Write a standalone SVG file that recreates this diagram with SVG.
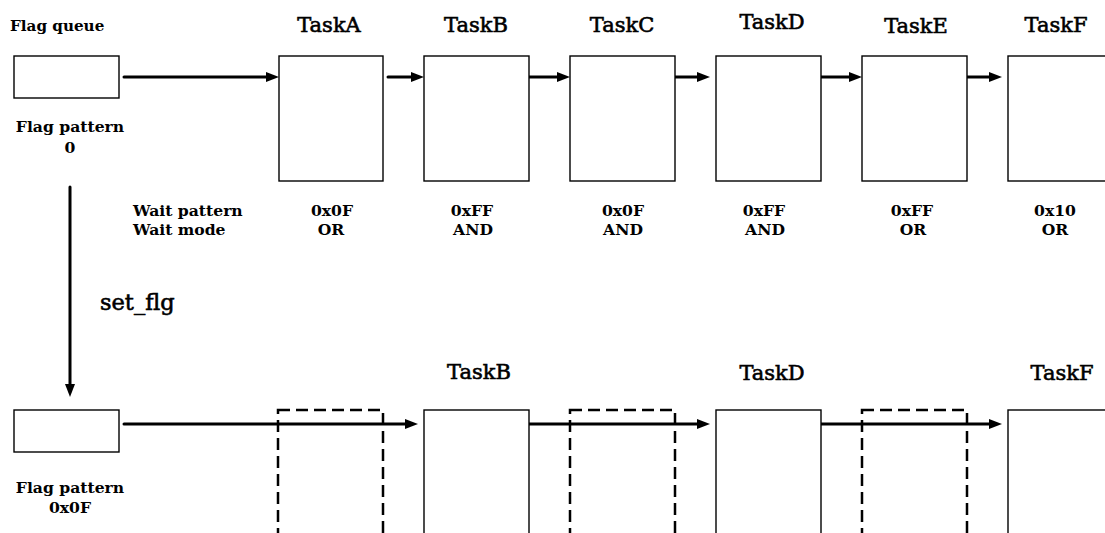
<svg xmlns="http://www.w3.org/2000/svg" width="1105" height="533" viewBox="0 0 1105 533">
<style>
.box{fill:#fff;stroke:#000;stroke-width:1.4}
.dash{fill:none;stroke:#000;stroke-width:2.5;stroke-dasharray:12 6}
.arr{stroke:#000;stroke-width:3;fill:none}
.b{font-family:"DejaVu Serif",serif;font-weight:bold;font-size:15.6px;fill:#000}
.t{font-family:"DejaVu Serif",serif;font-size:21px;fill:#000;stroke:#000;stroke-width:0.6}
.m{text-anchor:middle}
</style>
<defs>
<marker id="ah" markerUnits="userSpaceOnUse" markerWidth="14" markerHeight="12" refX="0" refY="5" orient="auto" overflow="visible">
<path d="M0,0 L13,5 L0,10 z" fill="#000"/>
</marker>
</defs>
<rect width="1105" height="533" fill="#fff"/>
<g id="queue-top">
<text class="b" x="10" y="31" style="font-size:15.2px">Flag queue</text>
<rect class="box" x="14" y="56" width="105" height="42"/>
<text class="b m" x="70" y="132">Flag pattern</text>
<text class="b m" x="70" y="153">0</text>
</g>
<g id="legend">
<text class="b" x="133" y="216">Wait pattern</text>
<text class="b" x="133" y="235">Wait mode</text>
</g>
<g id="taskA-top">
<text class="t m" x="329" y="32">TaskA</text>
<rect class="box" x="279" y="56" width="104" height="125"/>
<text class="b m" x="332" y="216">0x0F</text>
<text class="b m" x="331" y="235">OR</text>
</g>
<g id="taskB-top">
<text class="t m" x="476" y="32">TaskB</text>
<rect class="box" x="424" y="56" width="105" height="125"/>
<text class="b m" x="472" y="216">0xFF</text>
<text class="b m" x="473" y="235">AND</text>
</g>
<g id="taskC-top">
<text class="t m" x="622" y="32">TaskC</text>
<rect class="box" x="570" y="56" width="105" height="125"/>
<text class="b m" x="623" y="216">0x0F</text>
<text class="b m" x="623" y="235">AND</text>
</g>
<g id="taskD-top">
<text class="t m" x="772" y="29">TaskD</text>
<rect class="box" x="716" y="56" width="105" height="125"/>
<text class="b m" x="764" y="216">0xFF</text>
<text class="b m" x="765" y="235">AND</text>
</g>
<g id="taskE-top">
<text class="t m" x="916" y="33">TaskE</text>
<rect class="box" x="862" y="56" width="105" height="125"/>
<text class="b m" x="912" y="216">0xFF</text>
<text class="b m" x="913" y="235">OR</text>
</g>
<g id="taskF-top">
<text class="t m" x="1056" y="32">TaskF</text>
<rect class="box" x="1008" y="56" width="105" height="125"/>
<text class="b m" x="1055" y="216">0x10</text>
<text class="b m" x="1055" y="235">OR</text>
</g>
<g id="setflg">
<text class="t" x="100" y="310" style="font-size:22.5px">set_flg</text>
</g>
<g id="queue-bottom">
<rect class="box" x="14" y="410" width="105" height="42"/>
<text class="b m" x="70" y="493">Flag pattern</text>
<text class="b m" x="70" y="513">0x0F</text>
</g>
<g id="taskA-bottom">
<rect class="dash" x="278" y="410" width="105" height="140"/>
</g>
<g id="taskB-bottom">
<text class="t m" x="479" y="379">TaskB</text>
<rect class="box" x="424" y="410" width="105" height="140"/>
</g>
<g id="taskC-bottom">
<rect class="dash" x="570" y="410" width="105" height="140"/>
</g>
<g id="taskD-bottom">
<text class="t m" x="772" y="380">TaskD</text>
<rect class="box" x="716" y="410" width="105" height="140"/>
</g>
<g id="taskE-bottom">
<rect class="dash" x="862" y="410" width="105" height="140"/>
</g>
<g id="taskF-bottom">
<text class="t m" x="1062" y="380">TaskF</text>
<rect class="box" x="1008" y="410" width="105" height="140"/>
</g>
<g id="connectors">
<line class="arr" x1="124" y1="77" x2="266" y2="77" stroke-linecap="round" marker-end="url(#ah)"/>
<line class="arr" x1="388" y1="77" x2="411" y2="77" stroke-linecap="round" marker-end="url(#ah)"/>
<line class="arr" x1="529" y1="77" x2="557" y2="77" marker-end="url(#ah)"/>
<line class="arr" x1="675" y1="77" x2="697" y2="77" marker-end="url(#ah)"/>
<line class="arr" x1="821" y1="77" x2="849" y2="77" marker-end="url(#ah)"/>
<line class="arr" x1="967" y1="77" x2="989" y2="77" marker-end="url(#ah)"/>
<line class="arr" x1="124" y1="424" x2="405" y2="424" stroke-linecap="round" marker-end="url(#ah)"/>
<line class="arr" x1="529" y1="424" x2="697" y2="424" marker-end="url(#ah)"/>
<line class="arr" x1="821" y1="424" x2="989" y2="424" marker-end="url(#ah)"/>
<line class="arr" x1="70" y1="187" x2="70" y2="384" stroke-linecap="round" marker-end="url(#ah)"/>
</g>
</svg>
